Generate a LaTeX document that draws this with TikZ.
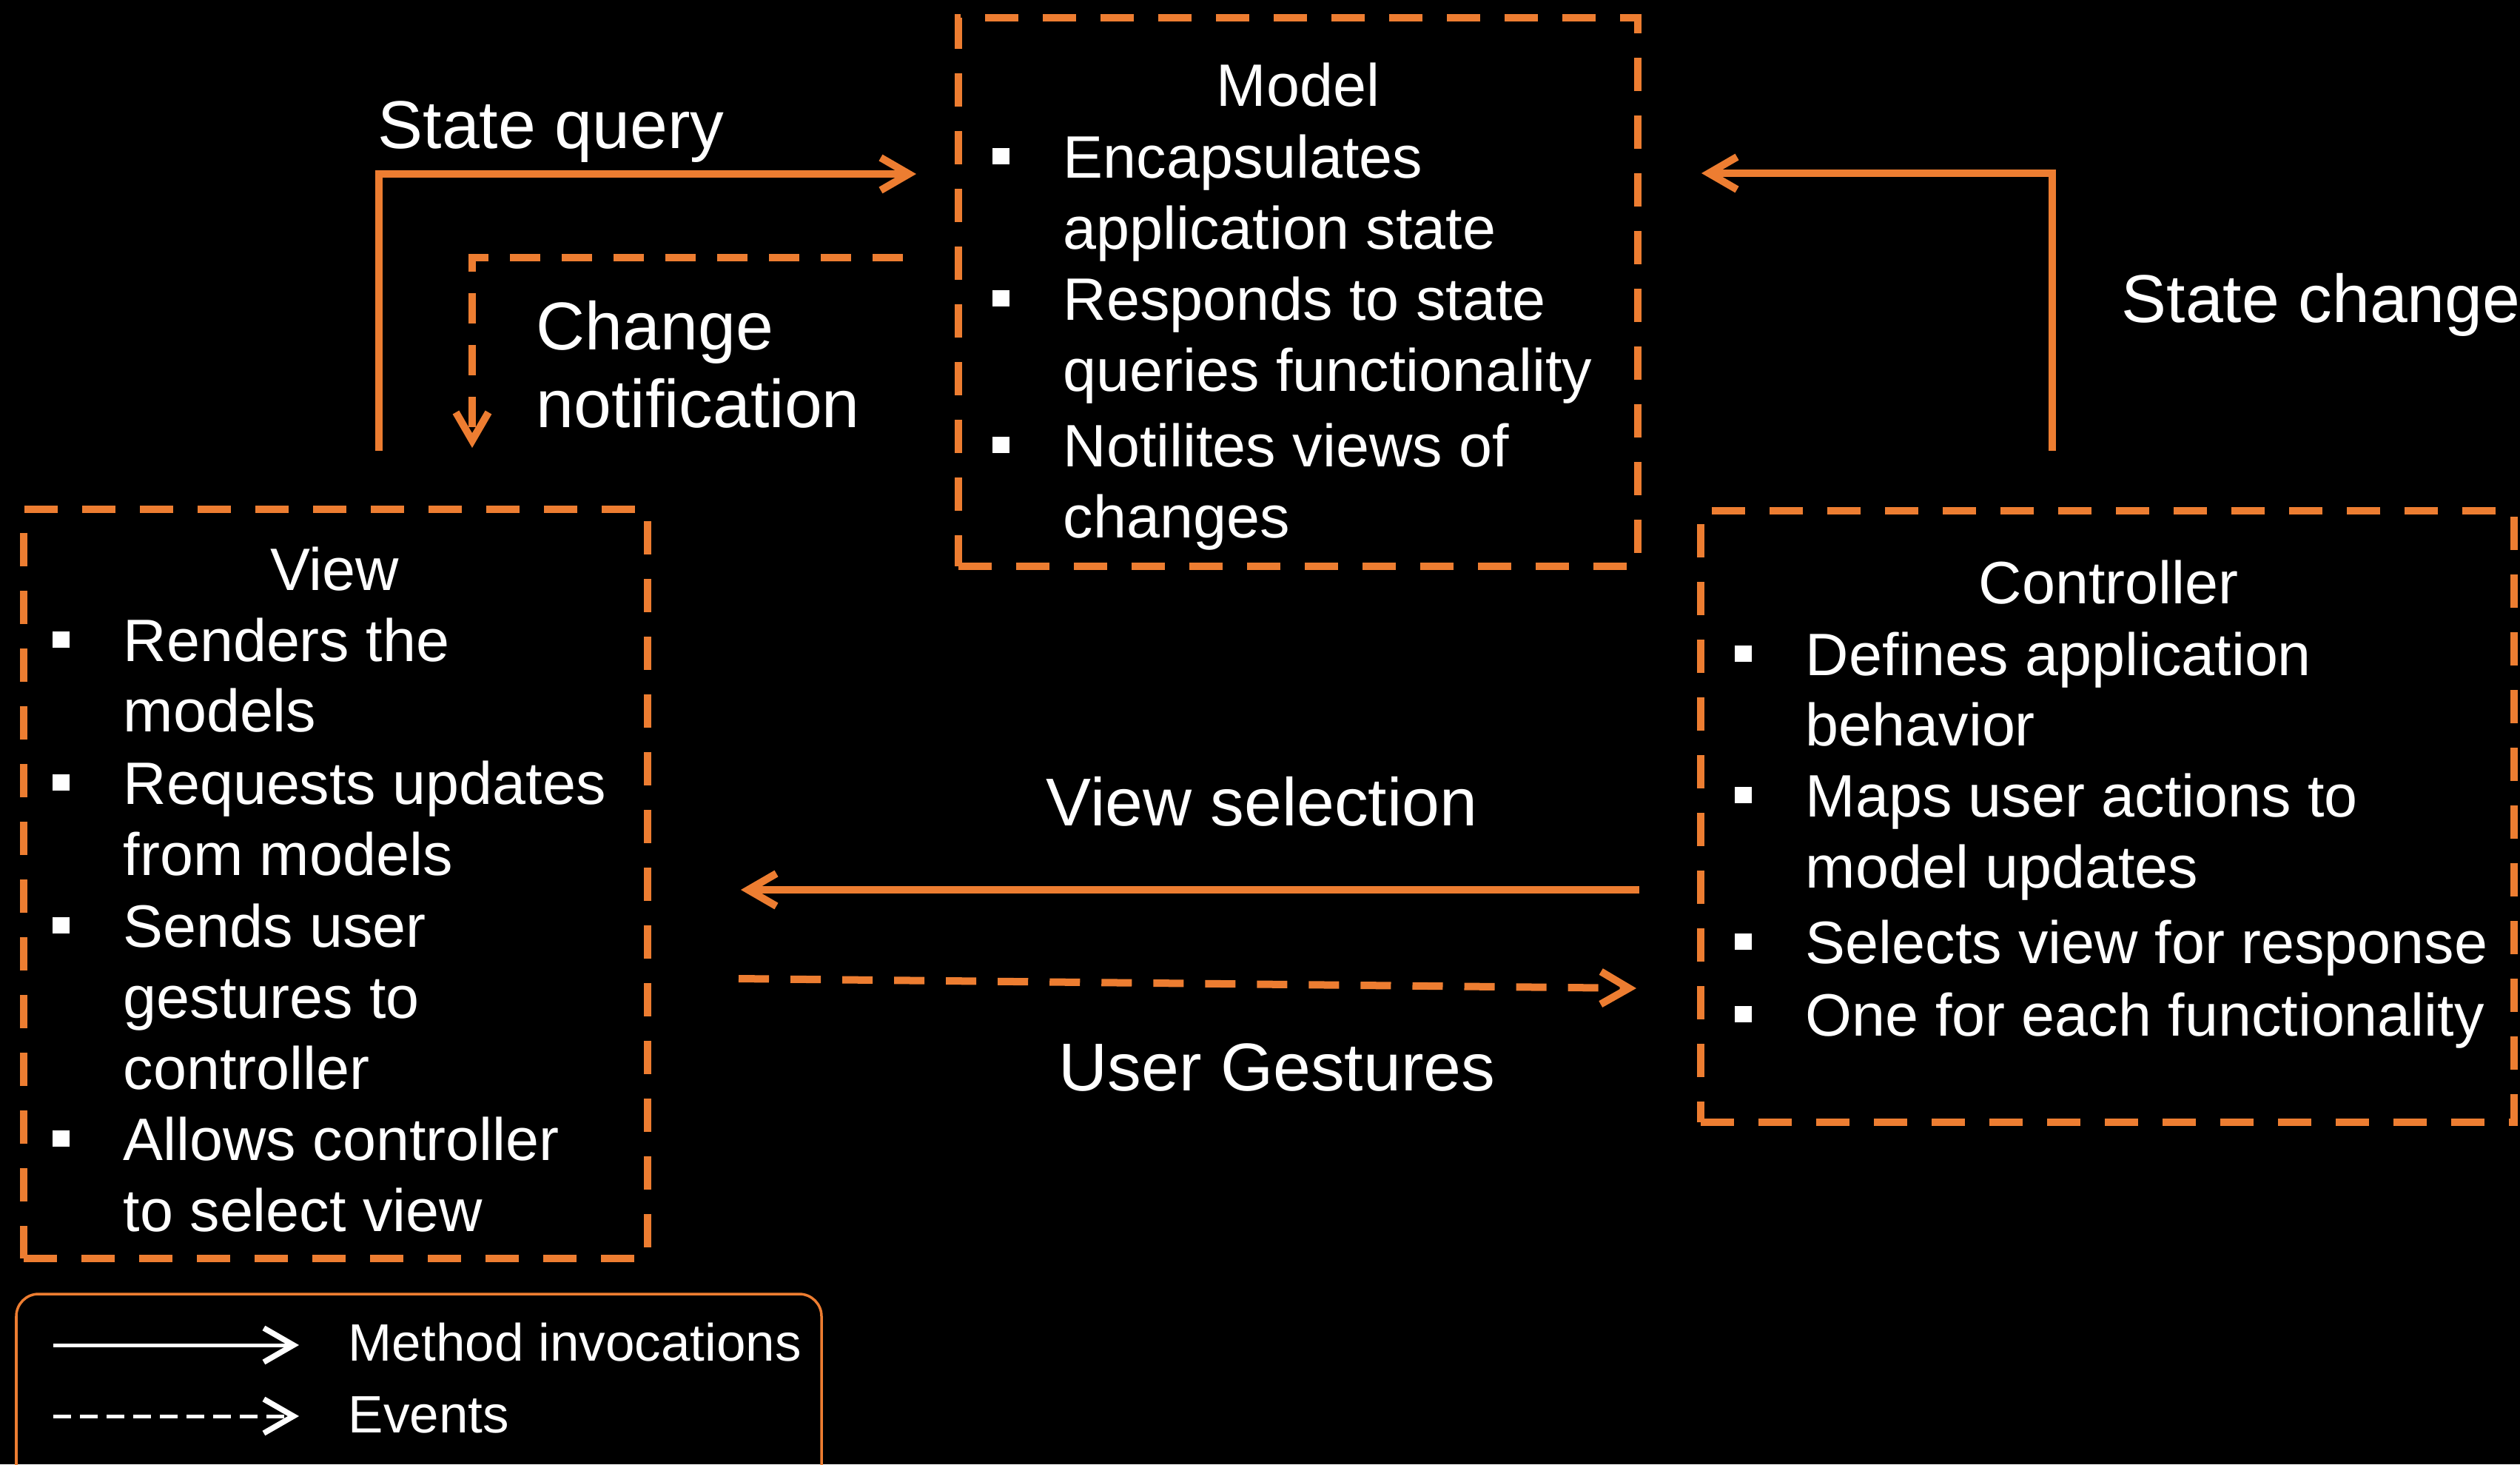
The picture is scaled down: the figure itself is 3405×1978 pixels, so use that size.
\documentclass[tikz,border=0pt]{standalone}
\usepackage{fontspec}
\setmainfont{Liberation Sans}
\usetikzlibrary{arrows.meta}
\definecolor{mvcorange}{RGB}{237,125,49}
\newcommand{\bul}{\llap{\raisebox{5pt}{\rule{6.4pt}{6.4pt}}\hspace{20.7pt}}}
\begin{document}
\begin{tikzpicture}[x=0.01cm,y=-0.01cm,
  box/.style={draw=mvcorange, line width=0.1cm, dash pattern=on 0.45cm off 0.33cm, rectangle, inner sep=0pt},
  body/.style={text=white, inner sep=0pt, anchor=base west, font=\fontsize{23}{27}\selectfont},
  boxtitle/.style={text=white, inner sep=0pt, anchor=base, font=\fontsize{23}{27}\selectfont},
  lbl/.style={text=white, inner sep=0pt, anchor=base west, font=\fontsize{26}{30}\selectfont},
  leg/.style={text=white, inner sep=0pt, anchor=base west, font=\fontsize{20.2}{24}\selectfont},
  call/.style={draw=mvcorange, line width=0.1cm, -{Straight Barb[length=0.38cm,width=0.44cm]}},
  evt/.style={call, dash pattern=on 0.41cm off 0.29cm},
  legcall/.style={draw=white, line width=0.05cm, -{Straight Barb[length=0.4cm,width=0.46cm,line width=0.075cm]}},
  legevt/.style={legcall, dash pattern=on 0.24cm off 0.12cm},
]
\useasboundingbox (0,0) rectangle (3405,1978);
\fill[black] (0,0) rectangle (3405,1978);

% boxes
\node[box, minimum width=9.18cm, minimum height=7.41cm] (model) at (1754,394.5) {};
\node[box, minimum width=8.43cm, minimum height=10.12cm] (view) at (453.5,1194) {};
\node[box, minimum width=10.99cm, minimum height=8.26cm] (ctrl) at (2847.5,1103) {};

% Model
\node[boxtitle] (modelT) at (1754,143) {Model};
\node[body] (m1) at (1436,240) {\bul Encapsulates};
\node[body] (m2) at (1436,336) {application state};
\node[body] (m3) at (1436,432) {\bul Responds to state};
\node[body] (m4) at (1436,528) {queries functionality};
\node[body] (m5) at (1436,630) {\bul Notilites views of};
\node[body] (m6) at (1436,726) {changes};

% View
\node[boxtitle] (viewT) at (452,797) {View};
\node[body] (v1) at (166,893) {\bul Renders the};
\node[body] (v2) at (166,988) {models};
\node[body] (v3) at (166,1086) {\bul Requests updates};
\node[body] (v4) at (166,1182) {from models};
\node[body] (v5) at (166,1279) {\bul Sends user};
\node[body] (v6) at (166,1375) {gestures to};
\node[body] (v7) at (166,1471) {controller};
\node[body] (v8) at (166,1567) {\bul Allows controller};
\node[body] (v9) at (166,1663) {to select view};

% Controller
\node[boxtitle] (ctrlT) at (2849,815) {Controller};
\node[body] (c1) at (2439,912) {\bul Defines application};
\node[body] (c2) at (2439,1007) {behavior};
\node[body] (c3) at (2439,1103) {\bul Maps user actions to};
\node[body] (c4) at (2439,1199) {model updates};
\node[body] (c5) at (2439,1301) {\bul Selects view for response};
\node[body] (c6) at (2439,1399) {\bul One for each functionality};

% connector labels
\node[lbl] (lsq) at (510,200) {State query};
\node[lbl] (lcn1) at (724,472) {Change};
\node[lbl] (lcn2) at (724,577) {notification};
\node[lbl] (lsc) at (2866,435) {State change};
\node[lbl] (lvs) at (1413,1115) {View selection};
\node[lbl] (lug) at (1430,1473) {User Gestures};

% connectors
\coordinate (sqA) at (512,609);
\coordinate (sqB) at (512,235);
\coordinate (sqC) at (1238,235);
\draw[call] (sqA) -- (sqB) -- (sqC);

\coordinate (cnA) at (1220,348);
\coordinate (cnB) at (638,348);
\coordinate (cnC) at (638,605);
\draw[evt] (cnA) -- (cnB) -- (cnC);

\coordinate (scA) at (2773,609);
\coordinate (scB) at (2773,234);
\coordinate (scC) at (2299,234);
\draw[call] (scA) -- (scB) -- (scC);

\coordinate (vsA) at (2215,1202);
\coordinate (vsB) at (1001,1202);
\draw[call] (vsA) -- (vsB);

\coordinate (ugA) at (998,1322);
\coordinate (ugB) at (2211,1335);
\draw[evt] (ugA) -- (ugB);

% legend
\begin{scope}
\clip (0,0) rectangle (3405,1978);
\draw[mvcorange, line width=0.035cm, rounded corners=0.3cm] (22,1748) rectangle (1110,2010);
\end{scope}
\coordinate (lgA) at (72,1817);
\coordinate (lgB) at (404,1817);
\draw[legcall] (lgA) -- (lgB);
\coordinate (lgC) at (72,1913);
\coordinate (lgD) at (404,1913);
\draw[legevt] (lgC) -- (lgD);
\node[leg] (lmi) at (470,1838) {Method invocations};
\node[leg] (lev) at (470,1935) {Events};
\end{tikzpicture}
\end{document}
